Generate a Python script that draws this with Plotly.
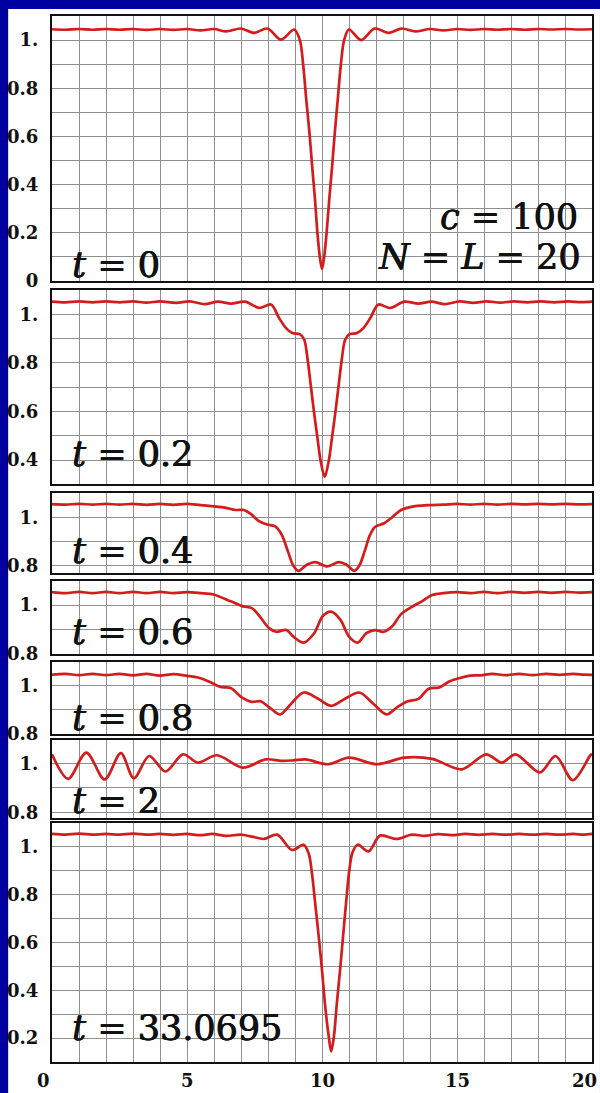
import plotly.graph_objects as go

# ---------------- data ----------------
x_t0 = [0, 0.5, 1, 1.5, 2, 2.5, 3, 3.5, 4, 4.5, 5, 5.5, 6, 6.45, 7.0, 7.49, 7.98, 8.48, 8.97,
        9.18, 9.3, 9.42, 9.54, 9.64, 9.74, 9.83, 9.92, 10.0, 10.08, 10.17, 10.27, 10.37, 10.47,
        10.58, 10.7, 10.82, 11.0, 11.45, 11.95, 12.45, 12.95, 13.45, 14.0, 14.5, 15, 15.5, 16,
        16.5, 17, 17.5, 18, 18.5, 19, 19.5, 20]
y_t0 = [1.045, 1.043, 1.046, 1.043, 1.046, 1.043, 1.046, 1.042, 1.046, 1.042, 1.046, 1.040, 1.046,
        1.036, 1.048, 1.030, 1.048, 1.002, 1.044, 1.0, 0.90, 0.75, 0.61, 0.47, 0.34, 0.20, 0.10,
        0.05, 0.10, 0.20, 0.34, 0.47, 0.61, 0.75, 0.90, 1.0, 1.044, 1.0, 1.048, 1.030, 1.048, 1.036,
        1.046, 1.040, 1.046, 1.042, 1.046, 1.043, 1.046, 1.043, 1.046, 1.044, 1.046, 1.044, 1.045]

x_t02 = [0, 0.5, 1, 1.5, 2, 2.5, 3, 3.5, 4, 4.6, 5.1, 5.65, 6.15, 6.63, 7.15, 7.68, 8.11, 8.41,
         8.66, 8.9, 9.18, 9.34, 9.46, 9.58, 9.70, 9.83, 9.95, 10.1, 10.25, 10.37, 10.5, 10.62,
         10.74, 10.86, 11.02, 11.3, 11.54, 11.79, 12.09, 12.52, 13.05, 13.57, 14.05, 14.55, 15.1,
         15.6, 16.1, 16.6, 17.1, 17.6, 18.1, 18.6, 19.1, 19.6, 20]
y_t02 = [1.052, 1.049, 1.053, 1.049, 1.053, 1.049, 1.053, 1.048, 1.053, 1.047, 1.053, 1.042, 1.052,
         1.044, 1.052, 1.026, 1.040, 0.985, 0.944, 0.923, 0.918, 0.896, 0.82, 0.711, 0.60, 0.492,
         0.396, 0.33, 0.396, 0.492, 0.60, 0.711, 0.82, 0.896, 0.918, 0.923, 0.944, 0.985, 1.040,
         1.026, 1.052, 1.044, 1.052, 1.042, 1.053, 1.047, 1.053, 1.048, 1.053, 1.049, 1.053, 1.049,
         1.053, 1.050, 1.052]

x_t04 = [0, 0.5, 1, 1.5, 2, 2.5, 3, 3.5, 4, 4.5, 5, 5.5, 5.98, 6.4, 6.8, 7.1, 7.35, 7.65, 7.97,
         8.25, 8.5, 8.75, 8.94, 9.13, 9.45, 9.75, 10.2, 10.62, 10.9, 11.19, 11.38, 11.58, 11.77,
         11.96, 12.3, 12.6, 12.93, 13.3, 13.95, 14.5, 15, 15.5, 16, 16.5, 17, 17.5, 18, 18.5, 19,
         19.5, 20]
y_t04 = [1.054, 1.052, 1.055, 1.052, 1.055, 1.052, 1.055, 1.051, 1.055, 1.051, 1.055, 1.050, 1.045,
         1.040, 1.030, 1.030, 1.015, 0.985, 0.970, 0.963, 0.930, 0.855, 0.800, 0.779, 0.805, 0.815,
         0.797, 0.815, 0.805, 0.779, 0.800, 0.860, 0.925, 0.960, 0.975, 1.000, 1.030, 1.043, 1.050,
         1.052, 1.055, 1.052, 1.055, 1.052, 1.055, 1.053, 1.055, 1.053, 1.055, 1.053, 1.054]

x_t06 = [0, 0.5, 1, 1.5, 2, 2.5, 3, 3.5, 4, 4.5, 5, 5.5, 5.98, 6.62, 7.07, 7.4, 7.65, 8.04, 8.3,
         8.68, 8.94, 9.32, 9.71, 10.03, 10.33, 10.68, 11.0, 11.32, 11.64, 11.96, 12.28, 12.6, 12.93,
         13.31, 13.7, 14.08, 14.5, 15, 15.5, 16, 16.5, 17, 17.5, 18, 18.5, 19, 19.5, 20]
y_t06 = [1.054, 1.050, 1.055, 1.050, 1.055, 1.050, 1.055, 1.050, 1.055, 1.050, 1.054, 1.050, 1.044,
         1.016, 0.995, 0.988, 0.960, 0.905, 0.890, 0.897, 0.870, 0.845, 0.884, 0.955, 0.973, 0.940,
         0.870, 0.845, 0.884, 0.897, 0.890, 0.913, 0.963, 0.992, 1.016, 1.042, 1.050, 1.054, 1.050,
         1.055, 1.050, 1.055, 1.051, 1.055, 1.051, 1.055, 1.052, 1.054]

x_t08 = [0, 0.5, 1, 1.5, 2, 2.5, 3, 3.5, 4, 4.5, 5, 5.47, 5.85, 6.24, 6.62, 7.01, 7.4, 7.72, 8.1,
         8.45, 8.81, 9.32, 9.84, 10.35, 10.87, 11.38, 11.9, 12.39, 12.8, 13.18, 13.57, 13.95, 14.34,
         14.73, 15.11, 15.5, 15.88, 16.3, 16.8, 17.3, 17.8, 18.3, 18.8, 19.3, 19.7, 20]
y_t08 = [1.047, 1.050, 1.045, 1.050, 1.045, 1.050, 1.044, 1.050, 1.043, 1.049, 1.042, 1.033, 1.016,
         0.995, 0.991, 0.953, 0.933, 0.935, 0.905, 0.880, 0.919, 0.972, 0.947, 0.916, 0.947, 0.972,
         0.925, 0.880, 0.912, 0.935, 0.945, 0.988, 0.993, 1.019, 1.033, 1.043, 1.044, 1.050, 1.045,
         1.050, 1.045, 1.050, 1.046, 1.050, 1.047, 1.046]

x_t2 = [0, 0.6, 1.27, 1.95, 2.55, 3.03, 3.6, 4.2, 4.85, 5.4, 6.11, 7.07, 7.91, 8.5, 8.94, 9.39,
        10.23, 11.0, 12.03, 13.05, 14.08, 15.18, 16.08, 16.66, 17.17, 18.07, 18.65, 19.29, 19.94, 20]
y_t2 = [1.039, 0.938, 1.046, 0.935, 1.044, 0.940, 1.032, 0.968, 1.039, 1.005, 1.035, 0.984, 1.018,
        1.012, 1.014, 1.018, 0.998, 1.025, 0.998, 1.025, 1.020, 0.977, 1.039, 1.005, 1.039, 0.964,
        1.032, 0.932, 1.035, 1.040]

x_t33 = [0, 0.5, 1, 1.5, 2, 2.5, 3, 3.5, 4, 4.5, 5, 5.5, 5.94, 6.45, 6.99, 7.4, 7.85, 8.34, 8.89,
         9.32, 9.51, 9.63, 9.75, 9.88, 10.0, 10.12, 10.25, 10.34, 10.44, 10.55, 10.68, 10.8, 10.9,
         11.01, 11.13, 11.32, 11.72, 12.15, 12.77, 13.32, 13.8, 14.3, 14.8, 15.3, 15.8, 16.3, 16.8,
         17.3, 17.8, 18.3, 18.8, 19.3, 19.7, 20]
y_t33 = [1.053, 1.050, 1.054, 1.050, 1.053, 1.050, 1.054, 1.050, 1.053, 1.049, 1.053, 1.048, 1.053,
         1.045, 1.050, 1.042, 1.032, 1.050, 0.986, 1.008, 0.970, 0.886, 0.761, 0.623, 0.484, 0.331,
         0.206, 0.144, 0.206, 0.345, 0.498, 0.650, 0.775, 0.900, 0.976, 1.008, 0.980, 1.046, 1.032,
         1.050, 1.045, 1.052, 1.048, 1.053, 1.049, 1.053, 1.050, 1.053, 1.050, 1.053, 1.050, 1.053,
         1.050, 1.053]

time_labels = ["<i>t</i> = 0", "<i>t</i> = 0.2", "<i>t</i> = 0.4", "<i>t</i> = 0.6",
               "<i>t</i> = 0.8", "<i>t</i> = 2", "<i>t</i> = 33.0695"]
x_tick_labels = ["0", "5", "10", "15", "20"]
x_tick_values = [0, 5, 10, 15, 20]

# ---------------- layout constants ----------------
W, H = 600, 1093
ML, MR, MT, MB = 52, 6, 16, 31
PW, PH = W - ML - MR, H - MT - MB
BLUE = "#0000a0"
RED = "#d41c1c"
GRID = "#8f8f8f"
INK = "#111111"
SERIF = "DejaVu Serif"
BIG = dict(family=SERIF, size=35, color=INK, shadow="0.5px 0 0 #111111, -0.3px 0 0 #111111")


def ypap(py):
    return (H - MB - py) / PH


def xpap(px):
    return (px - ML) / PW


# (x, y, y-range, lowest grid tenth, highest grid tenth, top px, bottom px, label centre px)
panels = [
    (x_t0, y_t0, [0, 1.1], 0, 11, 16, 281, 264),
    (x_t02, y_t02, [0.3, 1.1], 3, 11, 290, 484.3, 453),
    (x_t04, y_t04, [0.77, 1.1], 8, 11, 493, 573, 550),
    (x_t06, y_t06, [0.8, 1.1], 8, 11, 581, 653.5, 631),
    (x_t08, y_t08, [0.8, 1.1], 8, 11, 662, 733.5, 717),
    (x_t2, y_t2, [0.775, 1.1], 8, 11, 739.5, 818.3, 800),
    (x_t33, y_t33, [0.1, 1.1], 1, 11, 822.7, 1062, 1027),
]

fig = go.Figure()
layout = {}
annotations = []
for i, (xs, ys, yr, g0, g1, top, bot, lab_y) in enumerate(panels):
    n = i + 1
    sx = "" if n == 1 else str(n)
    fig.add_trace(go.Scatter(
        x=xs, y=ys, mode="lines",
        line=dict(color=RED, width=2.7, shape="spline", smoothing=0.9),
        xaxis="x" + sx, yaxis="y" + sx, showlegend=False, hoverinfo="skip"))
    yvals, ytext = [], []
    for k in range(g0, g1 + 1):
        v = round(k * 0.1, 1)
        yvals.append(v)
        if k % 2 == 0 and k <= 10:
            ytext.append("1." if k == 10 else ("0" if k == 0 else f"{v:g}"))
        else:
            ytext.append("")
    layout["xaxis" + sx] = dict(
        domain=[0, 1], range=[0, 20], anchor="y" + sx,
        tickmode="array", tickvals=list(range(21)), showticklabels=False, ticks="",
        showgrid=True, gridcolor=GRID, gridwidth=1.4, zeroline=False,
        showline=True, mirror=True, linecolor=INK, linewidth=2.2)
    layout["yaxis" + sx] = dict(
        domain=[ypap(bot), ypap(top)], range=yr, anchor="x" + sx,
        tickmode="array", tickvals=yvals, ticktext=ytext, ticks="",
        ticklabelstandoff=8,
        tickfont=dict(family=SERIF, size=18, color=INK, weight="bold"),
        showgrid=True, gridcolor=GRID, gridwidth=1.4, zeroline=False,
        showline=True, mirror=True, linecolor=INK, linewidth=2.2)
    annotations.append(dict(
        text=time_labels[i], xref="paper", yref="paper",
        x=xpap(70), y=ypap(lab_y + 1), xanchor="left", yanchor="middle",
        showarrow=False, font=BIG))

annotations.append(dict(
    text="<i>c</i> = 100", xref="paper", yref="paper",
    x=xpap(582), y=ypap(217), xanchor="right", yanchor="middle",
    showarrow=False, font=BIG))
annotations.append(dict(
    text="<i>N</i> = <i>L</i> = 20", xref="paper", yref="paper",
    x=xpap(585), y=ypap(257), xanchor="right", yanchor="middle",
    showarrow=False, font=BIG))

shifts = [-9, 0, 0, 0, -8]
for v, t, s in zip(x_tick_values, x_tick_labels, shifts):
    annotations.append(dict(
        text=t, xref="x7", yref="paper", x=v, y=ypap(1080), xshift=s,
        xanchor="center", yanchor="middle", showarrow=False,
        font=dict(family=SERIF, size=18, color=INK, weight="bold")))

fig.update_layout(
    width=W, height=H, autosize=False,
    margin=dict(l=ML, r=MR, t=MT, b=MB, pad=0),
    paper_bgcolor=BLUE, plot_bgcolor="white",
    showlegend=False,
    annotations=annotations,
    shapes=[dict(type="rect", xref="paper", yref="paper",
                 x0=xpap(8), x1=xpap(602), y0=ypap(1100), y1=ypap(9),
                 fillcolor="white", line=dict(width=0), layer="below")],
    **layout)

fig.write_html(
    "out.html",
    config={"displayModeBar": False},
    post_script="document.body.style.margin='0';document.body.style.overflow='hidden';")
